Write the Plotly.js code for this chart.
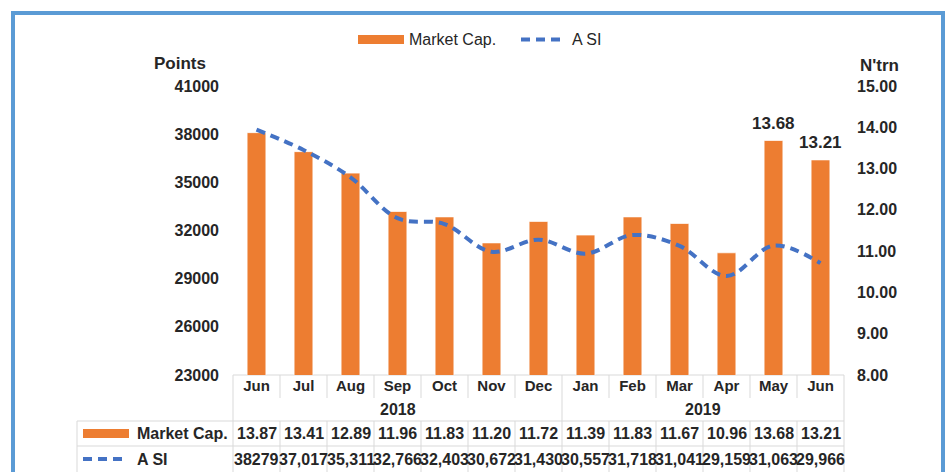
<!DOCTYPE html>
<html>
<head>
<meta charset="utf-8">
<script src="https://cdn.plot.ly/plotly-3.0.1.min.js"></script>
<style>
  html, body { margin: 0; padding: 0; background: #ffffff; }
  #wrap { position: relative; width: 950px; height: 472px; overflow: hidden; }
  #chart { position: absolute; left: 0; top: 0; width: 950px; height: 472px; }
  #frame { position: absolute; left: 11px; top: 11px; width: 926px; height: 480px;
           border: 4px solid #5B9BD5; pointer-events: none; }
</style>
</head>
<body>
<div id="wrap">
  <div id="chart"></div>
  <div id="frame"></div>
</div>
<script>
// ---- data ----
const months = ['Jun','Jul','Aug','Sep','Oct','Nov','Dec','Jan','Feb','Mar','Apr','May','Jun'];
const years = ['2018','2018','2018','2018','2018','2018','2018','2019','2019','2019','2019','2019','2019'];
const marketCap = [13.87, 13.41, 12.89, 11.96, 11.83, 11.20, 11.72, 11.39, 11.83, 11.67, 10.96, 13.68, 13.21];
const asi = [38279, 37017, 35311, 32766, 32403, 30672, 31430, 30557, 31718, 31041, 29159, 31063, 29966];
const labelledBars = [11, 12];
const seriesNames = ['Market Cap.', 'A SI'];

// ---- geometry helpers (pixel -> paper) ----
const W = 950, H = 472, L = 233, R = 844, T = 86, B = 375;
const PW = R - L, PH = B - T;
const px = v => (v - L) / PW;
const py = v => (B - v) / PH;

const FONT = '"Liberation Sans", Arial, sans-serif';
const TXT = '#262626';
const ORANGE = '#ED7D31';
const BLUE = '#4472C4';
const GRID = '#D9D9D9';

const xIdx = months.map((m, i) => i);
const asiLabels = asi.map((v, i) => i === 0 ? String(v) : v.toLocaleString('en-US'));

const traces = [
  {
    type: 'bar', name: seriesNames[0], x: xIdx, y: marketCap, yaxis: 'y',
    width: 0.4, marker: { color: ORANGE, line: { color: 'rgba(255,255,255,0.7)', width: 1 } },
    hoverinfo: 'skip', showlegend: false
  },
  {
    type: 'scatter', mode: 'lines', name: seriesNames[1], x: xIdx, y: asi, yaxis: 'y2',
    line: { color: BLUE, width: 4, dash: '9px,6px', shape: 'spline', smoothing: 1 },
    hoverinfo: 'skip', showlegend: false
  }
];

const shapes = [];
const annotations = [];
const line = (x0, y0, x1, y1, xref) => shapes.push({
  type: 'line', xref: xref || 'paper', yref: 'paper', x0, y0, x1, y1,
  line: { color: GRID, width: 1 }, layer: 'below'
});

// table grid
line(0, py(375), 1, py(375));
line(0, py(375), 0, py(474));
line(1, py(375), 1, py(474));
line(px(77), py(421), 1, py(421));
line(px(77), py(446), 1, py(446));
line(px(77), py(421), px(77), py(474));
for (let i = 0; i < months.length - 1; i++) {
  if (years[i] !== years[i + 1]) {
    line(i + 0.5, py(375), i + 0.5, py(474), 'x');
  } else {
    line(i + 0.5, py(375), i + 0.5, py(398), 'x');
    line(i + 0.5, py(421), i + 0.5, py(474), 'x');
  }
}

// year labels
const yearGroups = {};
years.forEach((y, i) => { (yearGroups[y] = yearGroups[y] || []).push(i); });
Object.keys(yearGroups).forEach(y => {
  const idx = yearGroups[y];
  annotations.push({
    xref: 'x', yref: 'paper', x: (idx[0] + idx[idx.length - 1]) / 2, y: py(409),
    text: y, showarrow: false, xanchor: 'center', yanchor: 'middle',
    font: { family: FONT, size: 16, weight: 'bold', color: TXT }
  });
});

// table values
marketCap.forEach((v, i) => annotations.push({
  xref: 'x', yref: 'paper', x: i, y: py(433), text: v.toFixed(2), showarrow: false,
  xanchor: 'center', yanchor: 'middle', font: { family: FONT, size: 16, weight: 'bold', color: TXT }
}));
asiLabels.forEach((s, i) => annotations.push({
  xref: 'x', yref: 'paper', x: i, y: py(459), text: s, showarrow: false,
  xanchor: 'center', yanchor: 'middle', font: { family: FONT, size: 16, weight: 'bold', color: TXT }
}));

// table legend keys
shapes.push({ type: 'rect', xref: 'paper', yref: 'paper', x0: px(83), x1: px(129), y0: py(438), y1: py(429),
  fillcolor: ORANGE, line: { width: 0 } });
shapes.push({ type: 'line', xref: 'paper', yref: 'paper', x0: px(83), x1: px(127), y0: py(459), y1: py(459),
  line: { color: BLUE, width: 4, dash: '9px,6px' } });
annotations.push({ xref: 'paper', yref: 'paper', x: px(135), y: py(433), text: seriesNames[0], showarrow: false,
  xanchor: 'left', yanchor: 'middle', font: { family: FONT, size: 16, weight: 'bold', color: TXT } });
annotations.push({ xref: 'paper', yref: 'paper', x: px(135), y: py(459), text: seriesNames[1], showarrow: false,
  xanchor: 'left', yanchor: 'middle', font: { family: FONT, size: 16, weight: 'bold', color: TXT } });

// top legend
shapes.push({ type: 'rect', xref: 'paper', yref: 'paper', x0: px(358), x1: px(404), y0: py(44), y1: py(35),
  fillcolor: ORANGE, line: { width: 0 } });
shapes.push({ type: 'line', xref: 'paper', yref: 'paper', x0: px(521), x1: px(563), y0: py(39.5), y1: py(39.5),
  line: { color: BLUE, width: 4, dash: '9px,6px' } });
annotations.push({ xref: 'paper', yref: 'paper', x: px(407), y: py(39.5), text: seriesNames[0], showarrow: false,
  xanchor: 'left', yanchor: 'middle', font: { family: FONT, size: 16, color: TXT } });
annotations.push({ xref: 'paper', yref: 'paper', x: px(570), y: py(39.5), text: seriesNames[1], showarrow: false,
  xanchor: 'left', yanchor: 'middle', font: { family: FONT, size: 16, color: TXT } });

// axis titles
annotations.push({ xref: 'paper', yref: 'paper', x: px(180), y: py(64), text: 'Points', showarrow: false,
  xanchor: 'center', yanchor: 'middle', font: { family: FONT, size: 17, weight: 'bold', color: TXT } });
annotations.push({ xref: 'paper', yref: 'paper', x: px(879), y: py(65), text: "N'trn", showarrow: false,
  xanchor: 'center', yanchor: 'middle', font: { family: FONT, size: 17, weight: 'bold', color: TXT } });

// bar data labels
labelledBars.forEach(i => annotations.push({
  xref: 'x', yref: 'y', x: i, y: marketCap[i], text: marketCap[i].toFixed(2), showarrow: false,
  xanchor: 'center', yanchor: 'bottom', yshift: 6,
  font: { family: FONT, size: 17, weight: 'bold', color: TXT }
}));

const layout = {
  width: W, height: H,
  margin: { l: L, r: W - R, t: T, b: H - B, pad: 0 },
  paper_bgcolor: '#ffffff', plot_bgcolor: 'rgba(0,0,0,0)',
  font: { family: FONT, color: TXT },
  showlegend: false,
  xaxis: {
    range: [-0.5, months.length - 0.5], tickvals: xIdx, ticktext: months,
    showgrid: false, zeroline: false, showline: false, ticks: '',
    tickfont: { family: FONT, size: 15, weight: 'bold', color: TXT }, ticklabelstandoff: 0,
    fixedrange: true
  },
  yaxis: {
    side: 'right', range: [8, 15], dtick: 1, tick0: 8, tickformat: '.2f',
    showgrid: false, zeroline: false, showline: false, ticks: '',
    tickfont: { family: FONT, size: 16, weight: 'bold', color: TXT }, ticklabelstandoff: 12,
    fixedrange: true
  },
  yaxis2: {
    overlaying: 'y', side: 'left', range: [23000, 41000], dtick: 3000, tick0: 23000, tickformat: 'd',
    showgrid: false, zeroline: false, showline: false, ticks: '',
    tickfont: { family: FONT, size: 16, weight: 'bold', color: TXT }, ticklabelstandoff: 13,
    fixedrange: true
  },
  shapes, annotations
};

Plotly.newPlot('chart', traces, layout, { displayModeBar: false, staticPlot: true });
</script>
</body>
</html>
